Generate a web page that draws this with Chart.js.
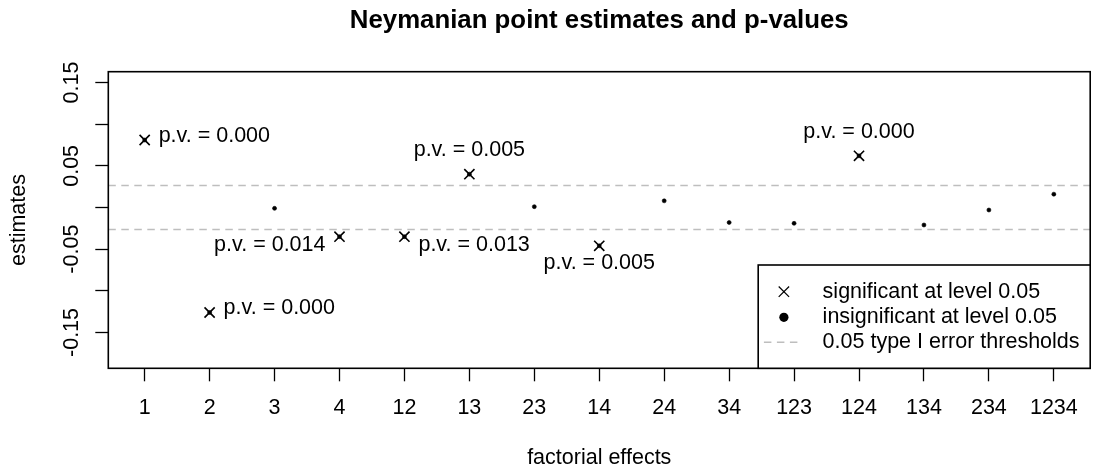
<!DOCTYPE html>
<html>
<head>
<meta charset="utf-8">
<title>Neymanian point estimates and p-values</title>
<script src="https://cdn.jsdelivr.net/npm/chart.js@4.4.1/dist/chart.umd.min.js"></script>
<style>
    html, body { margin: 0; padding: 0; background: #fff; }
    #wrap { width: 1099px; height: 472px; }
</style>
</head>
<body>
<div id="wrap"><canvas id="neymanChart" width="1099" height="472"></canvas></div>
<script>
const effects = ['1', '2', '3', '4', '12', '13', '23', '14', '24', '34', '123', '124', '134', '234', '1234'];
const estimates = [0.081, -0.126, -0.001, -0.035, -0.035, 0.040, 0.001, -0.046, 0.008, -0.018, -0.019, 0.062, -0.021, -0.003, 0.016];
const significant = [true, true, false, true, true, true, false, true, false, false, false, true, false, false, false];
const pValues = ['0.000', '0.000', null, '0.014', '0.013', '0.005', null, '0.005', null, null, null, '0.000', null, null, null];
const thresholds = [0.0265, -0.0265];
const yTicks = [-0.15, -0.10, -0.05, 0, 0.05, 0.10, 0.15];
const yTickLabels = ['-0.15', '', '-0.05', '', '0.05', '', '0.15'];

const FONT = "'Liberation Sans', Arial, Helvetica, sans-serif";
const BASE = 21.5;

// where each p-value label sits relative to its point (like R text(pos=...))
const labelSide = { 0: 'right', 1: 'right', 3: 'left', 4: 'right', 5: 'above', 7: 'below', 11: 'above' };
const labelNudge = { 3: 12, 4: 12 };

const xMin = 0.44, xMax = 15.56;

function drawCross(ctx, x, y, half, width) {
    ctx.save();
    ctx.strokeStyle = '#000';
    ctx.lineWidth = width;
    ctx.beginPath();
    ctx.moveTo(x - half, y - half);
    ctx.lineTo(x + half, y + half);
    ctx.moveTo(x + half, y - half);
    ctx.lineTo(x - half, y + half);
    ctx.stroke();
    ctx.restore();
}

const decorPlugin = {
    id: 'decor',
    afterDraw(chart) {
        const ctx = chart.ctx;
        const area = chart.chartArea;
        const yScale = chart.scales.y;
        const midX = (area.left + area.right) / 2;
        const midY = (area.top + area.bottom) / 2;

        ctx.save();
        // plot frame
        ctx.strokeStyle = '#000';
        ctx.lineWidth = 1.6;
        ctx.strokeRect(area.left, area.top, area.right - area.left, area.bottom - area.top);

        ctx.fillStyle = '#000';
        // title
        ctx.font = 'bold 25.8px ' + FONT;
        ctx.textAlign = 'center';
        ctx.textBaseline = 'alphabetic';
        ctx.fillText('Neymanian point estimates and p-values', midX, 27.5);

        // x axis title
        ctx.font = BASE + 'px ' + FONT;
        ctx.fillText('factorial effects', midX, 464);

        // y axis title and rotated tick labels
        ctx.save();
        ctx.translate(25, midY);
        ctx.rotate(-Math.PI / 2);
        ctx.fillText('estimates', 0, 0);
        ctx.restore();

        yTicks.forEach(function (v, i) {
            if (!yTickLabels[i]) return;
            ctx.save();
            ctx.translate(78, yScale.getPixelForValue(v));
            ctx.rotate(-Math.PI / 2);
            ctx.fillText(yTickLabels[i], 0, 0);
            ctx.restore();
        });

        // p-value labels
        const meta = chart.getDatasetMeta(1);
        ctx.textBaseline = 'middle';
        estimates.forEach(function (v, i) {
            if (!pValues[i]) return;
            const pt = meta.data[i];
            const txt = 'p.v. = ' + pValues[i];
            const side = labelSide[i] || 'right';
            const dy = labelNudge[i] || 0;
            if (side === 'right') {
                ctx.textAlign = 'left';
                ctx.fillText(txt, pt.x + 14, pt.y - 4 + dy);
            } else if (side === 'left') {
                ctx.textAlign = 'right';
                ctx.fillText(txt, pt.x - 14, pt.y - 4 + dy);
            } else if (side === 'above') {
                ctx.textAlign = 'center';
                ctx.fillText(txt, pt.x, pt.y - 24 + dy);
            } else {
                ctx.textAlign = 'center';
                ctx.fillText(txt, pt.x, pt.y + 17 + dy);
            }
        });

        // legend, bottom right inside the plot
        const lw = 332, lh = 103.3;
        const lx = area.right - lw, ly = area.bottom - lh;
        ctx.fillStyle = '#fff';
        ctx.fillRect(lx, ly, lw, lh);
        ctx.strokeStyle = '#000';
        ctx.lineWidth = 1.6;
        ctx.strokeRect(lx, ly, lw, lh);

        const rows = [ly + 26.7, ly + 52.3, ly + 77.3];
        const symX = lx + 25.7;
        drawCross(ctx, symX, rows[0], 5.2, 1.2);
        ctx.fillStyle = '#000';
        ctx.beginPath();
        ctx.arc(symX, rows[1], 4.6, 0, Math.PI * 2);
        ctx.fill();
        ctx.strokeStyle = '#bebebe';
        ctx.lineWidth = 1.5;
        ctx.setLineDash([7.5, 5.5]);
        ctx.beginPath();
        ctx.moveTo(lx + 5.7, rows[2]);
        ctx.lineTo(lx + 41.7, rows[2]);
        ctx.stroke();
        ctx.setLineDash([]);

        ctx.fillStyle = '#000';
        ctx.font = BASE + 'px ' + FONT;
        ctx.textAlign = 'left';
        ctx.textBaseline = 'middle';
        ctx.fillText('significant at level 0.05', lx + 64.4, rows[0]);
        ctx.fillText('insignificant at level 0.05', lx + 64.4, rows[1]);
        ctx.fillText('0.05 type I error thresholds', lx + 64.4, rows[2]);
        ctx.restore();
    },
};

const canvas = document.getElementById('neymanChart');

const allPoints = estimates.map(function (v, i) { return { x: i + 1, y: v }; });
const sigPoints = estimates
    .map(function (v, i) { return significant[i] ? { x: i + 1, y: v } : null; })
    .filter(function (p) { return p; });

const thresholdSets = thresholds.map(function (t) {
    return {
        type: 'line',
        data: [{ x: xMin, y: t }, { x: xMax, y: t }],
        borderColor: '#bebebe',
        borderWidth: 1.5,
        borderDash: [7.5, 5.5],
        pointRadius: 0,
        fill: false,
    };
});

new Chart(canvas, {
    type: 'scatter',
    data: {
        datasets: [
            {
                data: sigPoints,
                pointStyle: 'crossRot',
                pointRadius: 7.2,
                borderColor: '#000',
                borderWidth: 1.6,
            },
            {
                data: allPoints,
                pointStyle: 'circle',
                pointRadius: 2,
                backgroundColor: '#000',
                borderColor: '#000',
                borderWidth: 0.6,
            },
        ].concat(thresholdSets),
    },
    options: {
        responsive: false,
        animation: false,
        events: [],
        layout: {
            padding: { top: 71.7, right: 3.5, bottom: 0, left: 0 },
        },
        plugins: {
            legend: { display: false },
            tooltip: { enabled: false },
            title: { display: false },
        },
        scales: {
            x: {
                type: 'linear',
                min: xMin,
                max: xMax,
                afterBuildTicks: function (scale) {
                    scale.ticks = effects.map(function (e, i) { return { value: i + 1 }; });
                },
                afterFit: function (scale) {
                    scale.height = 103.7;
                },
                grid: {
                    drawOnChartArea: false,
                    drawTicks: true,
                    tickLength: 13,
                    tickColor: '#000',
                    tickWidth: 1.3,
                },
                border: { display: false },
                ticks: {
                    autoSkip: false,
                    maxRotation: 0,
                    minRotation: 0,
                    padding: 14,
                    color: '#000',
                    font: { family: FONT, size: BASE },
                    callback: function (value, index) {
                        return effects[index];
                    },
                },
            },
            y: {
                min: -0.193,
                max: 0.163,
                afterBuildTicks: function (scale) {
                    scale.ticks = yTicks.map(function (v) { return { value: v }; });
                },
                afterFit: function (scale) {
                    scale.width = 108.3;
                },
                grid: {
                    drawOnChartArea: false,
                    drawTicks: true,
                    tickLength: 13,
                    tickColor: '#000',
                    tickWidth: 1.3,
                },
                border: { display: false },
                ticks: {
                    display: false,
                },
            },
        },
    },
    plugins: [decorPlugin],
});
</script>
</body>
</html>
